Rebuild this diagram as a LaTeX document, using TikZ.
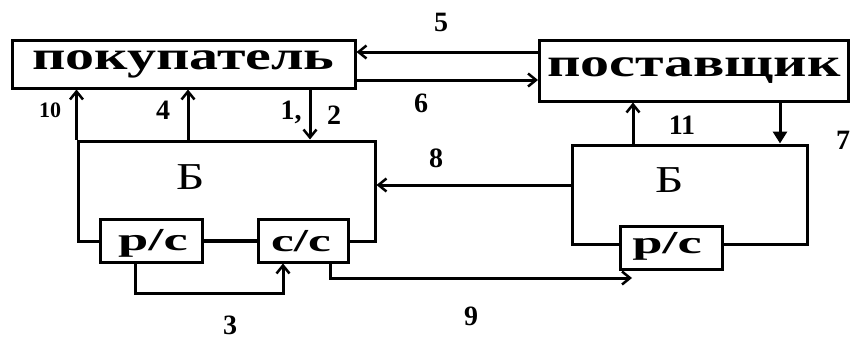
\documentclass[tikz,border=0pt]{standalone}
\usepackage{graphicx}
\usepackage{fontspec}
\setmainfont{Liberation Serif}
\usetikzlibrary{arrows.meta}

\newcommand{\wide}[2]{\scalebox{#1}[1]{#2}}

\begin{document}
\begin{tikzpicture}[
  x=1pt, y=-1pt,
  line width=3pt,
  >={Straight Barb[length=8pt,width=13pt,line width=2.5pt]},
  box/.style={draw,inner sep=0pt,fill=white},
  partytext/.style={font=\fontsize{40}{40}\selectfont\bfseries},
  acctext/.style={font=\fontsize{32}{32}\selectfont\bfseries},
  numlbl/.style={font=\fontsize{28}{28}\selectfont\bfseries,inner sep=0pt}
]
  \useasboundingbox (0,0) rectangle (851,340);
  % parties
  \node[box,minimum width=343pt,minimum height=48pt] (pok) at (183.5,64) {};
  \node[partytext] (pokt) at (pok) {\wide{1.45}{покупатель}};
  \node[box,minimum width=309pt,minimum height=61pt] (post) at (694,70.5) {};
  \node[partytext] (postt) at (post) {\wide{1.45}{поставщик}};
  % banks
  \node[draw,inner sep=0pt,minimum width=297pt,minimum height=100pt] (bl) at (226.5,191) {};
  \node[font=\fontsize{38}{38}\selectfont] (blt) at (191,177) {\wide{1.3}{Б}};
  \node[draw,inner sep=0pt,minimum width=235pt,minimum height=99pt] (br) at (689.5,194.5) {};
  \node[font=\fontsize{38}{38}\selectfont] (brt) at (670,180) {\wide{1.3}{Б}};
  % accounts
  \node[box,minimum width=102pt,minimum height=43pt] (rsl) at (151,240.5) {};
  \node[acctext] (rslt) at (153,243) {\wide{1.7}{р/с}};
  \node[box,minimum width=90pt,minimum height=43pt] (ssl) at (303,240.5) {};
  \node[acctext] (sslt) at (301,241) {\wide{1.6}{с/с}};
  \node[box,minimum width=102pt,minimum height=43pt] (rsr) at (671,247.5) {};
  \node[acctext] (rsrt) at (667,246) {\wide{1.7}{р/с}};
  % helper coordinates
  \coordinate (r5) at (0,52);
  \coordinate (r6) at (0,80);
  \coordinate (r8) at (0,185);
  \coordinate (c4) at (188,0);
  \coordinate (c12) at (310,0);
  \coordinate (c11) at (633,0);
  \coordinate (c7) at (780,0);
  \coordinate (k3a) at (135,293);
  \coordinate (k3b) at (283,293);
  \coordinate (k9a) at (330,278);
  \coordinate (k9b) at (632,278);
  % flows
  \draw[->] (post.west |- r5) -- (pok.east |- r5);
  \draw[->] (pok.east |- r6) -- (post.west |- r6);
  \draw[->] (bl.north west) -- (pok.south -| bl.north west);
  \draw[->] (bl.north -| c4) -- (pok.south -| c4);
  \draw[->] (pok.south -| c12) -- (bl.north -| c12);
  \draw[->] (br.north -| c11) -- (post.south -| c11);
  \draw[-{Triangle[length=12pt,width=14pt]}] (post.south -| c7) -- (br.north -| c7);
  \draw[->] (br.west |- r8) -- (bl.east |- r8);
  \draw (rsl) -- (ssl);
  \draw[->] (rsl.south -| k3a) -- (k3a) -- (k3b) -- (ssl.south -| k3b);
  \draw[->] (ssl.south -| k9a) -- (k9a) -- (k9b);
  % labels
  \node[numlbl] (l5) at (441,22) {5};
  \node[numlbl] (l6) at (421,103) {6};
  \node[numlbl,font=\fontsize{22}{22}\selectfont\bfseries] (l10) at (50,110) {10};
  \node[numlbl] (l4) at (163,110) {4};
  \node[numlbl] (l1) at (291,112) {1,};
  \node[numlbl] (l2) at (334,115) {2};
  \node[numlbl] (l11) at (682,125) {11};
  \node[numlbl] (l7) at (843,140) {7};
  \node[numlbl] (l8) at (436,158) {8};
  \node[numlbl] (l3) at (230,325) {3};
  \node[numlbl] (l9) at (471,316) {9};
\end{tikzpicture}
\end{document}
